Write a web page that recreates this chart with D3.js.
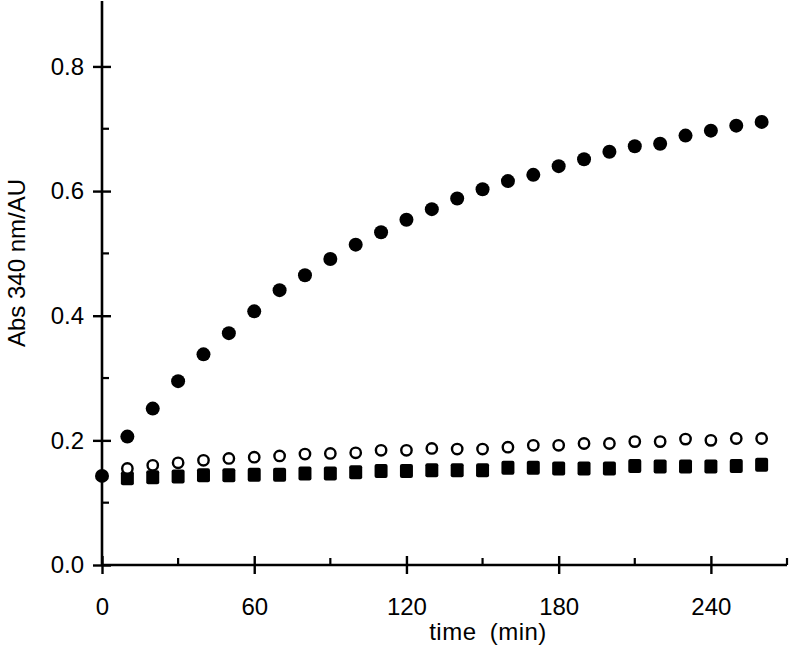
<!DOCTYPE html>
<html>
<head>
<meta charset="utf-8">
<script src="https://cdn.jsdelivr.net/npm/d3@7"></script>
<style>
  body { margin: 0; background: #fff; }
  text { font-family: Arial, "Liberation Sans", sans-serif; fill: #000; }
</style>
</head>
<body>
<script>
// time points (min)
const times = [0, 10, 20, 30, 40, 50, 60, 70, 80, 90, 100, 110, 120, 130,
  140, 150, 160, 170, 180, 190, 200, 210, 220, 230, 240, 250, 260];

// filled circles
const filledCircle = [0.143, 0.206, 0.251, 0.295, 0.338, 0.372, 0.407, 0.441, 0.465,
  0.491, 0.514, 0.534, 0.554, 0.571, 0.588, 0.603, 0.616, 0.626, 0.640, 0.651,
  0.663, 0.672, 0.676, 0.689, 0.697, 0.705, 0.711];

// open circles (start at 10 min)
const openCircle = [null, 0.155, 0.160, 0.164, 0.168, 0.171, 0.173, 0.175, 0.178,
  0.179, 0.180, 0.184, 0.184, 0.187, 0.186, 0.186, 0.189, 0.192, 0.192, 0.195,
  0.195, 0.198, 0.198, 0.202, 0.200, 0.203, 0.203];

// filled squares (start at 10 min)
const filledSquare = [null, 0.139, 0.141, 0.142, 0.144, 0.144, 0.145, 0.145, 0.147,
  0.147, 0.149, 0.151, 0.151, 0.152, 0.152, 0.152, 0.156, 0.156, 0.155, 0.155,
  0.155, 0.159, 0.158, 0.158, 0.158, 0.159, 0.161];

const xMajor = [0, 60, 120, 180, 240];
const xMinor = [30, 90, 150, 210, 270];
const yMajor = [0.0, 0.2, 0.4, 0.6, 0.8];
const yMinor = [0.1, 0.3, 0.5, 0.7];

const width = 792, height = 648;
const svg = d3.select("body").append("svg")
  .attr("width", width).attr("height", height);

const x = d3.scaleLinear().domain([0, 270]).range([102, 787]);
const y = d3.scaleLinear().domain([0, 0.905]).range([565, 1]);

const pts = (vals) => times.map((t, i) => [t, vals[i]]).filter(d => d[1] != null);

// axes
const gx = svg.append("g").attr("transform", `translate(0,${y(0)})`)
  .call(d3.axisBottom(x).tickValues(xMajor).tickSize(0).tickPadding(33)
    .tickFormat(d3.format("d")));
const gy = svg.append("g").attr("transform", `translate(${x(0)},0)`)
  .call(d3.axisLeft(y).tickValues(yMajor).tickSize(0).tickPadding(18)
    .tickFormat(d3.format(".1f")));

[gx, gy].forEach(g => {
  g.select(".domain").attr("stroke", "#000").attr("stroke-width", 2.6);
  g.selectAll(".tick text").attr("font-size", 24).attr("fill", "#000")
    .attr("font-family", "Arial, 'Liberation Sans', sans-serif");
});
gx.select(".domain").attr("d", `M${x(0)},0H${x(270)}`);
gy.select(".domain").attr("d", `M0,${y(0)}V${y(0.905)}`);

gx.selectAll(".tick line").attr("y1", -9).attr("y2", 9)
  .attr("stroke", "#000").attr("stroke-width", 2.4);
gy.selectAll(".tick line").attr("x1", -9).attr("x2", 9)
  .attr("stroke", "#000").attr("stroke-width", 2.4);

gx.selectAll(".minor").data(xMinor).enter().append("line")
  .attr("x1", d => x(d)).attr("x2", d => x(d))
  .attr("y1", 0).attr("y2", -7)
  .attr("stroke", "#000").attr("stroke-width", 2.2);
gy.selectAll(".minor").data(yMinor).enter().append("line")
  .attr("x1", 0).attr("x2", 7)
  .attr("y1", d => y(d)).attr("y2", d => y(d))
  .attr("stroke", "#000").attr("stroke-width", 2.2);

// labels
svg.append("text").attr("x", 488).attr("y", 640)
  .attr("text-anchor", "middle").attr("font-size", 24)
  .attr("word-spacing", 6).attr("letter-spacing", 0.5)
  .text("time (min)");
svg.append("text")
  .attr("transform", `translate(25,263) rotate(-90)`)
  .attr("text-anchor", "middle").attr("font-size", 24).text("Abs 340 nm/AU");

// markers
svg.append("g").selectAll("rect").data(pts(filledSquare)).enter().append("rect")
  .attr("x", d => x(d[0]) - 6.5).attr("y", d => y(d[1]) - 7)
  .attr("width", 13).attr("height", 14).attr("rx", 2)
  .attr("fill", "#000");

svg.append("g").selectAll("circle").data(pts(openCircle)).enter().append("circle")
  .attr("cx", d => x(d[0])).attr("cy", d => y(d[1])).attr("r", 5.2)
  .attr("fill", "#fff").attr("stroke", "#000").attr("stroke-width", 2.4);

svg.append("g").selectAll("circle").data(pts(filledCircle)).enter().append("circle")
  .attr("cx", d => x(d[0])).attr("cy", d => y(d[1])).attr("r", 7)
  .attr("fill", "#000");
</script>
</body>
</html>
